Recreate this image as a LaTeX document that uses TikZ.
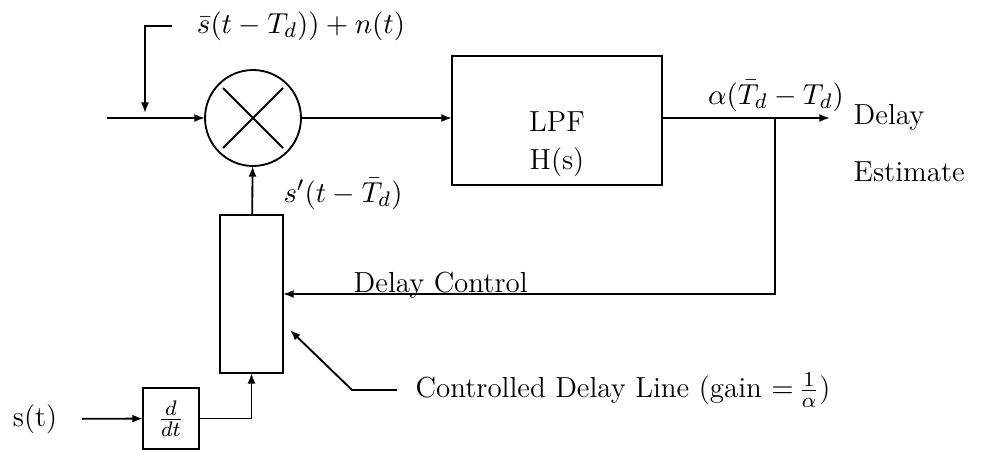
\documentclass[tikz,border=0pt]{standalone}
\usetikzlibrary{arrows.meta}
\begin{document}
\begin{tikzpicture}[x=0.01333cm, y=-0.01333cm, line width=0.7pt,
        font=\fontsize{11}{13.6}\selectfont,
        >={Latex[length=4pt,width=3pt]},
        blk/.style={draw, inner sep=0pt, outer sep=0pt}]
        \useasboundingbox (0,0) rectangle (981,450);
        % Multiplizierer
        \node[blk, circle, minimum size=1.28cm] (mult) at (253,118) {};
        \draw (mult.center) +(-30,-30) -- +(30,30);
        \draw (mult.center) +(-30,30) -- +(30,-30);
        
        % Tiefpass
        \node[blk, minimum width=2.8cm, minimum height=1.72cm] (lpf) at (557,120.5) {};
        \node (lpftxt) at (557,122) {LPF};
        \node (hs) at (557,162) {H(s)};
        
        % Verzoegerungsleitung und Ableitung
        \node[blk, minimum width=0.84cm, minimum height=2.107cm] (dline) at (251.5,294) {};
        \node[blk, minimum width=0.747cm, minimum height=0.813cm] (ddt) at (171,418.5) {$\frac{d}{dt}$};
        \node (sin) at (35,419) {s(t)};
        
        % Punkte
        \coordinate (in) at (107,118);
        \coordinate (inj) at (145,113);
        \coordinate (out) at (830,118);
        \coordinate (tap) at (775,118);
        \coordinate (ptr) at (290,330);
        
        % Beschriftungen
        \node (rx) at (301,26) {$\bar{s}(t-T_d))+n(t)$};
        \node (alpha) at (776,96) {$\alpha(\bar{T}_d-T_d)$};
        \node[anchor=west] (delay) at (844,117) {Delay};
        \node[anchor=west] (est) at (844,172) {Estimate};
        \node[anchor=west] (sd) at (274,194) {$s'(t-\bar{T}_d)$};
        \node[anchor=base west] (ctl) at (344,292) {Delay Control};
        \node[anchor=west] (cdl) at (406,390) {Controlled Delay Line (gain ${=}\,\frac{1}{\alpha}$)};
        
        % Pfeile
        \draw[->] (in) -- (mult);
        \draw[->] ([xshift=-0.21cm]rx.west) -| (inj);
        \draw[->] (mult) -- (mult -| lpf.west);
        \draw[->] (lpf.east |- out) -- (out);
        \draw[->] (tap) |- (dline);
        \draw[->] (dline) -- (mult);
        \draw[->, shorten <=0.2cm] (sin) -- (ddt);
        \draw[->] (ddt) -| (dline);
        \draw[->] ([xshift=-0.12cm]cdl.west) -- ++(-45,0) -- (ptr);
    \end{tikzpicture}
\end{document}
